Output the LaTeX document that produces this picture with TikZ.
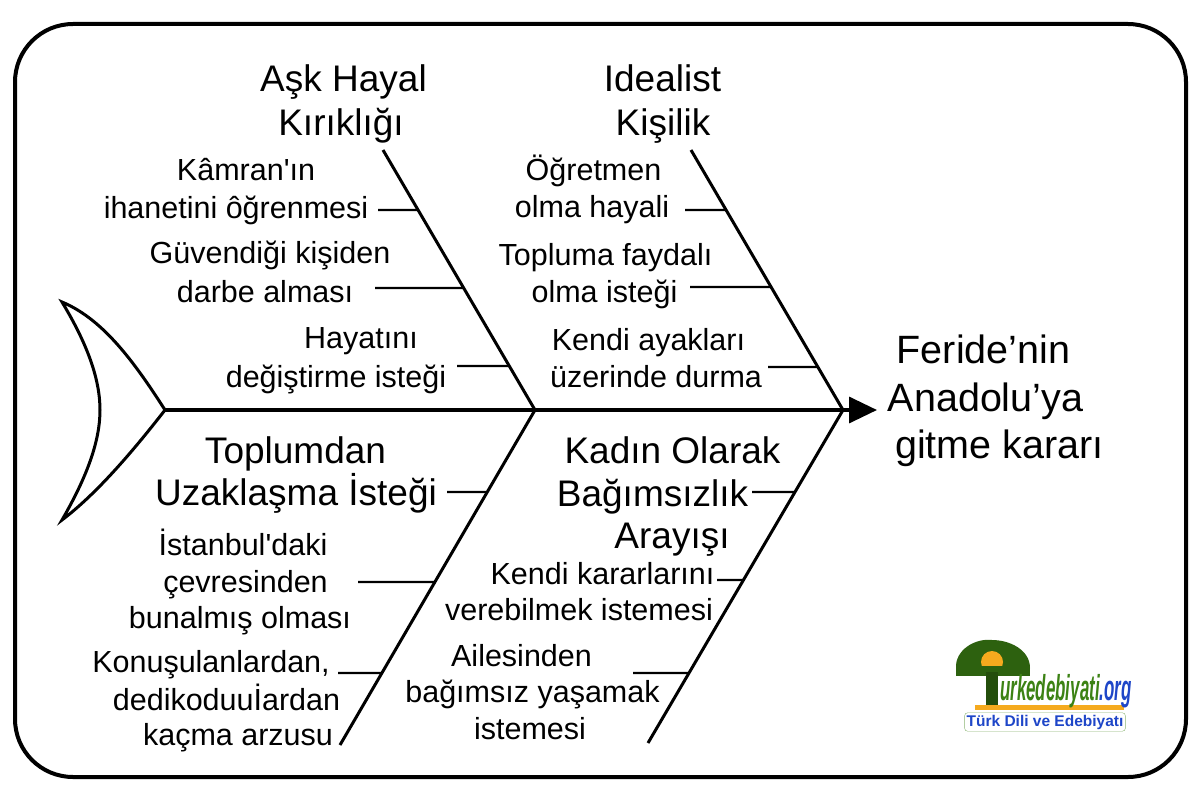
\documentclass[tikz,border=0pt]{standalone}
\usepackage{fontspec}
\setmainfont{Liberation Sans}
\usetikzlibrary{arrows.meta,calc}
\definecolor{logogreen}{RGB}{60,130,20}
\definecolor{logoblue}{RGB}{30,70,200}
\definecolor{logosun}{RGB}{245,170,30}
\begin{document}
\begin{tikzpicture}[x=1pt,y=-1pt,
  bone/.style={line width=3pt},
  tick/.style={line width=2.3pt},
  headtxt/.style={font=\fontsize{37}{43}\selectfont, anchor=base, inner sep=0pt},
  subtxt/.style={font=\fontsize{30.5}{37}\selectfont, anchor=base, inner sep=0pt},
  efftxt/.style={font=\fontsize{39.5}{47}\selectfont, anchor=base, inner sep=0pt},
]
\useasboundingbox (0,0) rectangle (1200,800);
\draw[line width=4pt, rounded corners=58pt] (15,24) rectangle (1186,777);

% spine and bone coordinates
\coordinate (tail) at (165,410);
\coordinate (j1) at (535,410);
\coordinate (j2) at (843,410);
\coordinate (head) at (877,410);
\coordinate (a1top) at (383,150);
\coordinate (a2top) at (691,150);
\coordinate (b1bot) at (340,745);
\coordinate (b2bot) at (648,743);

% fish tail
\draw[line width=3pt, line join=miter]
  (62,302) .. controls (100,318) and (130,355) .. (tail)
  .. controls (130,455) and (95,495) .. (62,520)
  .. controls (88,475) and (100,440) .. (100,410)
  .. controls (100,380) and (88,345) .. (62,302) -- cycle;

% spine
\draw[line width=3.5pt, -{Triangle[length=28pt,width=26pt]}] (tail) -- (head);

% bones
\draw[bone] (a1top) -- (j1) -- (b1bot);
\draw[bone] (a2top) -- (j2) -- (b2bot);

% headings
\node[headtxt] (ask1) at (343.5,92) {Aşk Hayal};
\node[headtxt] (ask2) at (341,135) {Kırıklığı};
\node[headtxt] (ideal1) at (662.5,92) {Idealist};
\node[headtxt] (ideal2) at (663,135) {Kişilik};
\node[headtxt] (top1) at (295.5,463) {Toplumdan};
\node[headtxt] (top2) at (296,505) {Uzaklaşma İsteği};
\node[headtxt] (kad1) at (672.5,463) {Kadın Olarak};
\node[headtxt] (kad2) at (652.5,506) {Bağımsızlık};
\node[headtxt] (kad3) at (672,548) {Arayışı};

% effect
\node[efftxt] (eff1) at (983.5,363) {Feride’nin};
\node[efftxt] (eff2) at (985.5,411) {Anadolu’ya};
\node[efftxt] (eff3) at (999.5,458) {gitme kararı};

% sub causes
\node[subtxt] (k1a) at (246,180) {Kâmran\textquotesingle ın};
\node[subtxt] (k1b) at (236,218) {ihanetini ôğrenmesi};
\node[subtxt] (k2a) at (270,263) {Güvendiği kişiden};
\node[subtxt] (k2b) at (265,302) {darbe alması};
\node[subtxt] (k3a) at (361,348) {Hayatını};
\node[subtxt] (k3b) at (336,387) {değiştirme isteği};
\node[subtxt] (i1a) at (593.5,180) {Öğretmen};
\node[subtxt] (i1b) at (592,217) {olma hayali};
\node[subtxt] (i2a) at (605.5,265) {Topluma faydalı};
\node[subtxt] (i2b) at (604.5,302) {olma isteği};
\node[subtxt] (i3a) at (648.5,350) {Kendi ayakları};
\node[subtxt] (i3b) at (656,387) {üzerinde durma};
\node[subtxt] (t1a) at (243,555) {İstanbul\textquotesingle daki};
\node[subtxt] (t1b) at (245.5,592) {çevresinden};
\node[subtxt] (t1c) at (240,628) {bunalmış olması};
\node[subtxt] (t2a) at (211,672) {Konuşulanlardan,};
\node[subtxt] (t2b) at (226.5,710) {dedikoduuİardan};
\node[subtxt] (t2c) at (238,745) {kaçma arzusu};
\node[subtxt] (b1a) at (602.5,584) {Kendi kararlarını};
\node[subtxt] (b1b) at (579,620) {verebilmek istemesi};
\node[subtxt] (b2a) at (521.5,666) {Ailesinden};
\node[subtxt] (b2b) at (532.5,702) {bağımsız yaşamak};
\node[subtxt] (b2c) at (530,739) {istemesi};

% tick start points
\coordinate (k1s) at (378,210);
\coordinate (k2s) at (375,288);
\coordinate (k3s) at (457,366);
\coordinate (i1s) at (685,210);
\coordinate (i2s) at (690,287);
\coordinate (i3s) at (768,367);
\coordinate (ts) at (447,492);
\coordinate (t1s) at (358,582);
\coordinate (t2s) at (338,673);
\coordinate (ks) at (752,492);
\coordinate (b1s) at (717,580);
\coordinate (b2s) at (633,673);

% ticks
\draw[tick] (k1s) -- ($(a1top)!0.2308!(j1)$);
\draw[tick] (k2s) -- ($(a1top)!0.5308!(j1)$);
\draw[tick] (k3s) -- ($(a1top)!0.8308!(j1)$);
\draw[tick] (i1s) -- ($(a2top)!0.2308!(j2)$);
\draw[tick] (i2s) -- ($(a2top)!0.5270!(j2)$);
\draw[tick] (i3s) -- ($(a2top)!0.8346!(j2)$);
\draw[tick] (ts) -- ($(j1)!0.2448!(b1bot)$);
\draw[tick] (t1s) -- ($(j1)!0.5134!(b1bot)$);
\draw[tick] (t2s) -- ($(j1)!0.7851!(b1bot)$);
\draw[tick] (ks) -- ($(j2)!0.2462!(b2bot)$);
\draw[tick] (b1s) -- ($(j2)!0.5105!(b2bot)$);
\draw[tick] (b2s) -- ($(j2)!0.7898!(b2bot)$);

% logo (approximation)
\fill[logogreen!75!black] (956,668) .. controls (955,650) and (975,638) .. (992,640)
  .. controls (1010,640) and (1030,650) .. (1030,668)
  .. controls (1010,676) and (975,676) .. cycle;
\fill[logosun] (992,662) circle (11pt);
\fill[logogreen!75!black] (956,666) rectangle (1030,676);
\fill[logogreen!60!black] (986,672) rectangle (998,706);
\fill[logosun] (975,705) rectangle (1124,710);
\node[font=\bfseries\itshape\fontsize{36}{36}\selectfont, text=logogreen, anchor=base west,
  inner sep=0pt, xscale=0.47] (logotxt) at (1000,700) {urkedebiyati\textcolor{logoblue}{.org}};
\node[font=\bfseries\fontsize{15.5}{15.5}\selectfont, text=logoblue, fill=white,
  draw=logogreen!60, rounded corners=3pt, inner sep=2pt] (logosub) at (1045,722) {Türk Dili ve Edebiyatı};
\end{tikzpicture}
\end{document}
